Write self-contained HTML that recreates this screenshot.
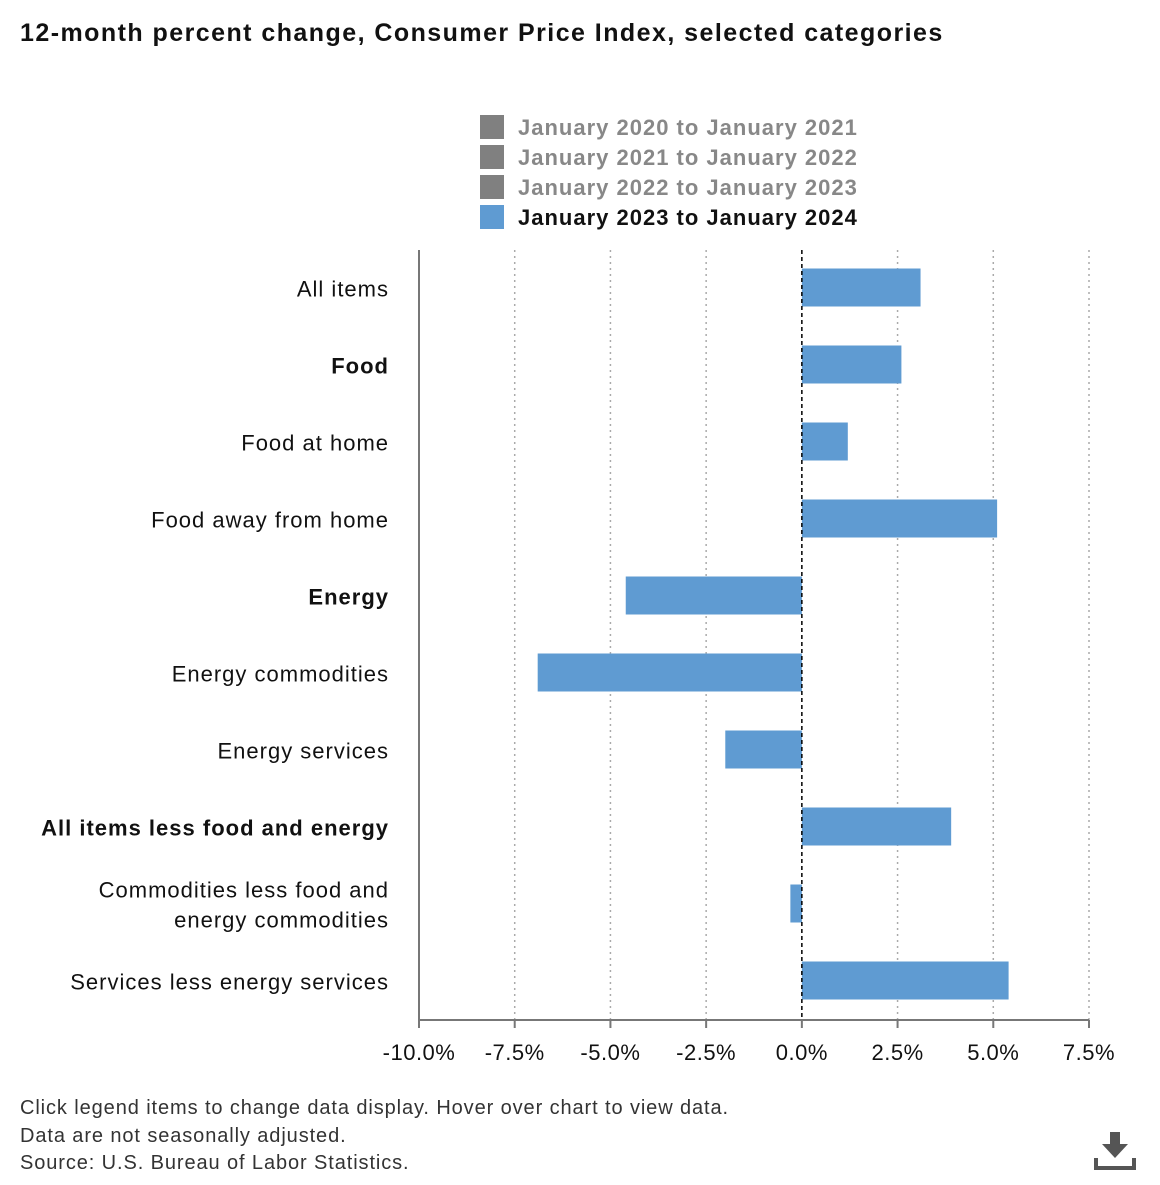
<!DOCTYPE html>
<html><head><meta charset="utf-8"><style>
body{margin:0;background:#fff;font-family:"Liberation Sans",Arial,sans-serif;}
svg text{font-family:"Liberation Sans",Arial,sans-serif;}
</style></head><body>
<svg width="1160" height="1180" xmlns="http://www.w3.org/2000/svg" id="chart">
<text x="20" y="41" font-size="25" font-weight="bold" fill="#111" letter-spacing="1.45">12-month percent change, Consumer Price Index, selected categories</text>
<g id="legend"></g>
<g id="grid"></g>
<g id="bars"></g>
<g id="labels"></g>
<g id="ticks"></g>
<text x="20" y="1114" font-size="20" fill="#333" letter-spacing="0.9">Click legend items to change data display. Hover over chart to view data.</text>
<text x="20" y="1142" font-size="20" fill="#333" letter-spacing="0.9">Data are not seasonally adjusted.</text>
<text x="20" y="1169" font-size="20" fill="#333" letter-spacing="0.9">Source: U.S. Bureau of Labor Statistics.</text>
<g fill="#555">
<rect x="1110" y="1132" width="10" height="12"/>
<polygon points="1102,1144 1128,1144 1115,1158"/>
<rect x="1094" y="1166" width="42" height="4"/>
<rect x="1094" y="1158" width="4" height="10"/>
<rect x="1132" y="1158" width="4" height="10"/>
</g>
</svg>
<script>
const categories=["All items","Food","Food at home","Food away from home","Energy","Energy commodities","Energy services","All items less food and energy","Commodities less food and|energy commodities","Services less energy services"];
const boldFlags=[false,true,false,false,true,false,false,true,false,false];
const values2024=[3.1,2.6,1.2,5.1,-4.6,-6.9,-2.0,3.9,-0.3,5.4];
const tickValues=[-10,-7.5,-5,-2.5,0,2.5,5,7.5];
const tickLabels=["-10.0%","-7.5%","-5.0%","-2.5%","0.0%","2.5%","5.0%","7.5%"];
const legendLabels=["January 2020 to January 2021","January 2021 to January 2022","January 2022 to January 2023","January 2023 to January 2024"];
const NS="http://www.w3.org/2000/svg";
const L=419,R=1089,T=250,B=1020,xmin=-10,xmax=7.5;
const x=v=>L+(v-xmin)/(xmax-xmin)*(R-L);
const band=(B-T)/categories.length;
const yc=i=>T+band*(i+0.5)-1;
function mk(tag,attrs,parent){const e=document.createElementNS(NS,tag);for(const k in attrs)e.setAttribute(k,attrs[k]);parent.appendChild(e);return e;}
const lg=document.getElementById('legend');
legendLabels.forEach((t,i)=>{const y=115+i*30;const active=i===3;
 const r=mk('rect',{x:480,y:y,width:24,height:24,fill:active?'#5f9bd2':'#808080'},lg);
 
 
 const tx=mk('text',{x:518,y:y+20,'font-size':22,'font-weight':'bold','letter-spacing':1,fill:active?'#111':'#888'},lg);tx.textContent=t;
 
 });
const g=document.getElementById('grid');
tickValues.forEach((v,i)=>{if(v!==0&&v!==xmin){const l=mk('line',{x1:x(v),x2:x(v),y1:T,y2:B,stroke:'#aaa','stroke-width':1.5,'stroke-dasharray':'2,4'},g);
 
 }});
const ax=mk('line',{x1:L,x2:L,y1:T,y2:B+1,stroke:'#777','stroke-width':2},g);


const bx=mk('line',{x1:L,x2:R,y1:B,y2:B,stroke:'#777','stroke-width':2},g);


const bars=document.getElementById('bars');
values2024.forEach((v,i)=>{const x0=x(Math.min(0,v)),w=Math.abs(x(v)-x(0));
 const r=mk('rect',{x:x0,y:yc(i)-19,width:w,height:38,fill:'#5f9bd2'},bars);
 
 });
const z=mk('line',{x1:x(0),x2:x(0),y1:T,y2:B,stroke:'#000','stroke-width':1.5,'stroke-dasharray':'4,3'},bars);


const lb=document.getElementById('labels');
categories.forEach((c,i)=>{const parts=c.split('|');
 parts.forEach((p,j)=>{const y=yc(i)+9+(j-(parts.length-1)/2)*30;
 const t=mk('text',{x:389,y:y,'text-anchor':'end','font-size':22,'letter-spacing':1,'font-weight':boldFlags[i]?'bold':'normal',fill:'#111'},lb);t.textContent=p;
 
 });});
const tk=document.getElementById('ticks');
tickValues.forEach((v,i)=>{const m=mk('line',{x1:x(v),x2:x(v),y1:B,y2:B+8,stroke:'#777','stroke-width':2},tk);
 
 
 const t=mk('text',{x:x(v),y:1060,'text-anchor':'middle','font-size':22,'letter-spacing':0.5,fill:'#111'},tk);t.textContent=tickLabels[i];
 
 });
</script>
</body></html>
